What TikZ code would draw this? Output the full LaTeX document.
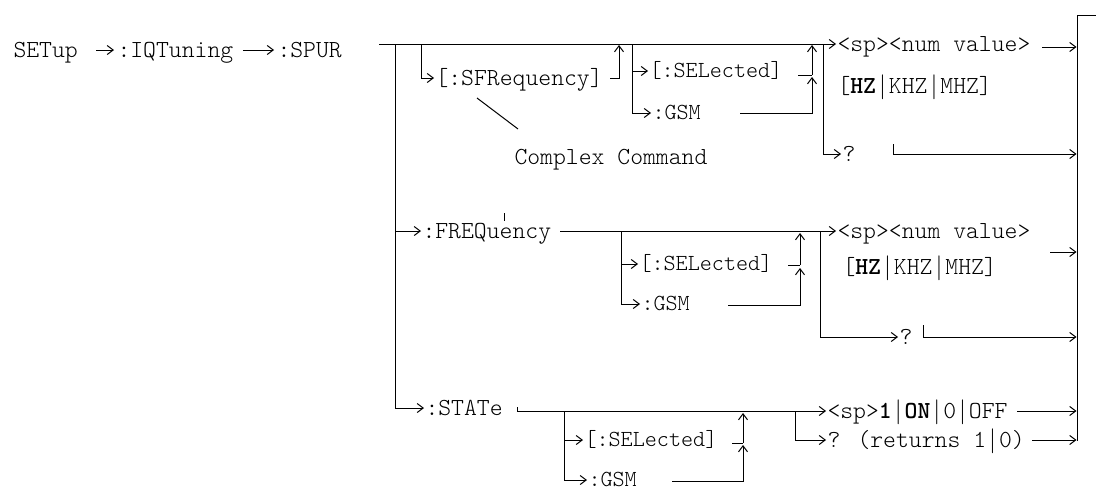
\documentclass[tikz,border=0pt]{standalone}
\usepackage{fontspec}
\usetikzlibrary{arrows.meta}
\newcommand\vb{\makebox[0.525em]{$\vert$}}
\begin{document}
\begin{tikzpicture}[x=1pt,y=-1pt,line width=1pt,
  arr/.style={-{Straight Barb[length=6pt,width=9pt]}},
  t/.style={anchor=west,inner xsep=1pt,inner ysep=0pt,text height=14pt,text depth=0pt,
    font=\ttfamily\fontseries{l}\fontsize{24.5}{28}\selectfont},
  s/.style={t,text height=13pt,font=\ttfamily\fontseries{l}\fontsize{23}{26}\selectfont}]
\useasboundingbox (0,0) rectangle (1096,490);
% top row
\node[t] (setup) at (12,50) {SETup};
\node[t] (iq) at (116,50) {:IQTuning};
\node[t] (spur) at (276,50) {:SPUR};
\draw[arr] ([xshift=17pt]setup.east) -- ([xshift=-2pt]iq.west);
\draw[arr] ([xshift=8pt]iq.east) -- ([xshift=-2pt]spur.west);
% main trunk
\coordinate (m0) at (379,44);
\node[t] (num1) at (836,44) {<sp><num value>};
\draw[arr] (m0) -- (num1.west);
\node[t] (freq) at (421,231) {:FREQuency};
\node[t] (state) at (424,408) {:STATe};
\draw[arr] (395,44) |- (state.west);
\draw[arr] (395,231) -- (freq.west);
% right collector
\draw (1096,15) -- (1077,15) -- (1077,441);
% SFRequency block
\node[t] (sfreq) at (434,78) {[:SFRequency]};
\draw[arr] (421,44) |- (sfreq.west);
\draw[arr] (610,78) -| (619,45);
\node[s] (sel1) at (648,71) {[:SELected]};
\node[s] (gsm1) at (651,113) {:GSM};
\draw[arr] (632,44) |- (gsm1.west);
\draw[arr] (632,71) -- (sel1.west);
\draw (798,75) -- (812,75);
\draw[arr] (740,113) -| (812,77);
\draw[arr] (812,75) -- (812,45);
\node[t] (cc) at (513,157) {Complex Command};
\draw (477,98) -- (518,129);
\node[t] (q1) at (841,154) {?};
\draw[arr] (823,44) |- (q1.west);
\draw[arr] (893,144) |- (1076.5,154);
\draw[arr] (1042,47) -- (1076.5,47);
\node[t] (hz1) at (836,86) {[\textbf{HZ}\vb KHZ\vb MHZ]};
% FREQuency block
\draw (504,213) -- (504,221);
\node[t] (num2) at (836,231) {<sp><num value>};
\draw[arr] (560,231) -- (num2.west);
\node[s] (sel2) at (638,264) {[:SELected]};
\node[s] (gsm2) at (640,304) {:GSM};
\draw[arr] (621,231) |- (gsm2.west);
\draw[arr] (621,264) -- (sel2.west);
\draw (788,265) -- (800,265);
\draw[arr] (728,305) -| (800,268);
\draw[arr] (800,265) -- (800,233);
\node[t] (q2) at (898,337) {?};
\draw[arr] (820,231) |- (q2.west);
\draw[arr] (923,325) |- (1076.5,337);
\node[t] (hz2) at (841,267) {[\textbf{HZ}\vb KHZ\vb MHZ]};
\draw[arr] (1050,252) -- (1076.5,252);
% STATe block
\node[t] (stsp) at (826,411) {<sp>\textbf{1}\vb\textbf{ON}\vb 0\vb OFF};
\node[t] (qr) at (826,440) {? (returns 1\vb 0)};
\draw[arr] (517,407) |- (stsp.west);
\node[s] (sel3) at (583,440) {[:SELected]};
\node[s] (gsm3) at (587,480) {:GSM};
\draw[arr] (564,411) |- (gsm3.west);
\draw[arr] (564,440) -- (sel3.west);
\draw (732,443) -- (743,443);
\draw[arr] (672,481) -| (743,445);
\draw[arr] (743,443) -- (743,413);
\draw[arr] (795,411) |- (qr.west);
\draw[arr] ([xshift=8pt]stsp.east) -- (1076.5,411);
\draw[arr] ([xshift=6pt]qr.east) -- (1076.5,440);
\end{tikzpicture}
\end{document}
